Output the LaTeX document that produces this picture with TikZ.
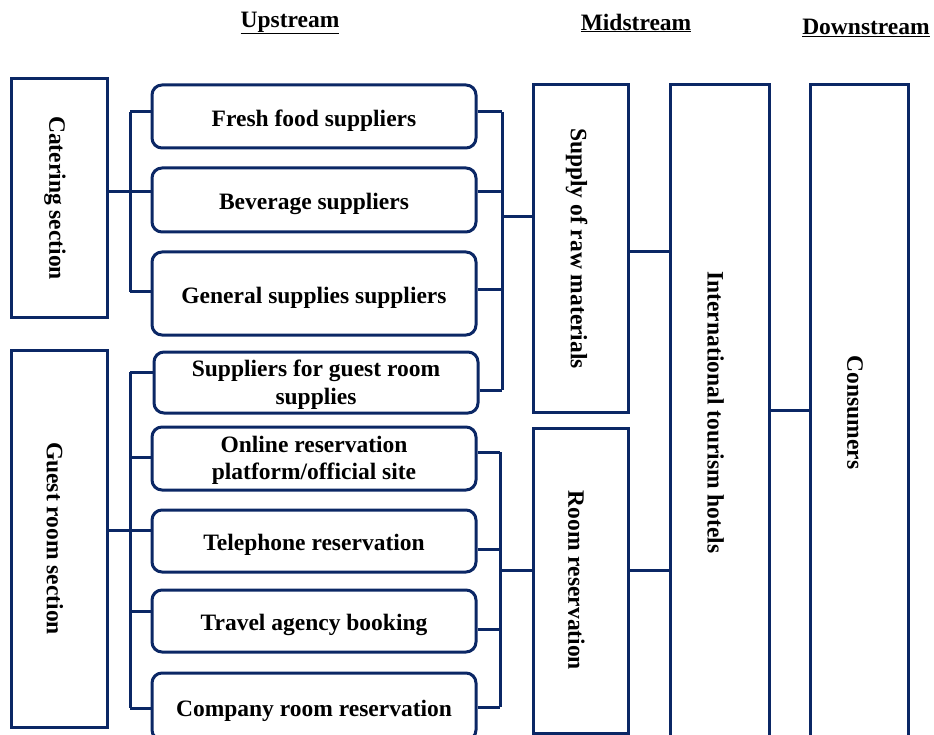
\documentclass[tikz,border=0pt]{standalone}
\usepackage{fontspec}
\setmainfont{Liberation Serif}
\definecolor{navy}{HTML}{0B2765}
\begin{document}
\begin{tikzpicture}[x=1pt,y=-1pt,
  every node/.style={font=\fontsize{23.5}{27.5}\selectfont\bfseries, text=black},
  sq/.style={draw=navy, line width=3pt, fill=white, inner sep=0pt},
  rbox/.style={sq, rounded corners=10pt, minimum width=324pt},
  vbox/.style={sq},
  lbl/.style={align=center, inner sep=0pt},
  vlbl/.style={rotate=-90, inner sep=0pt},
  conn/.style={draw=navy, line width=3pt},
  head/.style={inner sep=0pt}]
\useasboundingbox (0,0) rectangle (934,735);
% headers
\node[head] (hu) at (290,23) {\underline{Upstream}};
\node[head] (hm) at (636,23) {\underline{Midstream}};
\node[head] (hd) at (866,28) {\underline{Downstream}};
% left section boxes
\node[vbox, minimum width=96pt, minimum height=238pt] (cat) at (59,198) {};
\node[vlbl] (catt) at ([xshift=-4pt]cat.center) {Catering section};
\node[vbox, minimum width=96pt, minimum height=377pt] (guest) at (59,538.5) {};
\node[vlbl] (guestt) at ([xshift=-4pt]guest.center) {Guest room section};
% upstream rounded boxes
\node[rbox, minimum height=63pt] (f1) at (314,116.5) {};
\node[lbl] (f1t) at ([yshift=-4pt]f1.center) {Fresh food suppliers};
\node[rbox, minimum height=64pt] (f2) at (314,200) {};
\node[lbl] (f2t) at ([yshift=-4pt]f2.center) {Beverage suppliers};
\node[rbox, minimum height=83pt] (f3) at (314,293.5) {};
\node[lbl] (f3t) at ([yshift=-4pt]f3.center) {General supplies suppliers};
\node[rbox, minimum height=61pt] (f4) at (316,382.5) {};
\node[lbl] (f4t) at ([yshift=-2pt]f4.center) {Suppliers for guest room\\supplies};
\node[rbox, minimum height=63pt] (r1) at (314,458.5) {};
\node[lbl] (r1t) at ([yshift=-2pt]r1.center) {Online reservation\\platform/official site};
\node[rbox, minimum height=62pt] (r2) at (314,541) {};
\node[lbl] (r2t) at ([yshift=-4pt]r2.center) {Telephone reservation};
\node[rbox, minimum height=62pt] (r3) at (314,621) {};
\node[lbl] (r3t) at ([yshift=-4pt]r3.center) {Travel agency booking};
\node[rbox, minimum height=67pt] (r4) at (314,706.5) {};
\node[lbl] (r4t) at ([yshift=-4pt]r4.center) {Company room reservation};
% midstream
\node[vbox, minimum width=95pt, minimum height=327pt] (supply) at (580.5,248.5) {};
\node[vlbl] (supplyt) at ([xshift=-4pt]supply.center) {Supply of raw materials};
\node[vbox, minimum width=95pt, minimum height=305pt] (room) at (580.5,580.5) {};
\node[vlbl] (roomt) at ([xshift=-4pt]room.center) {Room reservation};
\node[vbox, minimum width=99pt, minimum height=655pt] (intl) at (719.5,412.5) {};
\node[vlbl] (intlt) at ([xshift=-4pt]intl.center) {International tourism hotels};
% downstream
\node[vbox, minimum width=98pt, minimum height=655pt] (cons) at (859,412.5) {};
\node[vlbl] (const) at ([xshift=-4pt]cons.center) {Consumers};
% catering bus
\coordinate (cb1) at (130,112);
\coordinate (cb3) at (130,292);
\draw[conn] (cb1) -- (cb3);
\draw[conn] (cb1) -- (f1.west |- cb1);
\draw[conn] (cat.east |- 0,192) -- (f2.west |- 0,192);
\draw[conn] (cb3) -- (f3.west |- cb3);
% guest bus
\coordinate (gb1) at (130,372);
\coordinate (gb5) at (130,708);
\draw[conn] (gb1) -- (gb5);
\draw[conn] (gb1) -- (f4.west |- gb1);
\draw[conn] (130,457) -- (r1.west |- 0,457);
\draw[conn] (guest.east |- 0,530) -- (r2.west |- 0,530);
\draw[conn] (130,611) -- (r3.west |- 0,611);
\draw[conn] (gb5) -- (r4.west |- gb5);
% raw materials bus
\coordinate (sb1) at (502,112);
\coordinate (sb4) at (502,390);
\draw[conn] (sb1) -- (sb4);
\draw[conn] (f1.east |- sb1) -- (sb1);
\draw[conn] (f2.east |- 0,192) -- (502,192);
\draw[conn] (f3.east |- 0,290) -- (502,290);
\draw[conn] (f4.east |- sb4) -- (sb4);
\draw[conn] (502,217) -- (supply.west |- 0,217);
% room bus
\coordinate (rb1) at (500,452);
\coordinate (rb4) at (500,707);
\draw[conn] (rb1) -- (rb4);
\draw[conn] (r1.east |- rb1) -- (rb1);
\draw[conn] (r2.east |- 0,549) -- (500,549);
\draw[conn] (r3.east |- 0,629) -- (500,629);
\draw[conn] (r4.east |- rb4) -- (rb4);
\draw[conn] (500,570) -- (room.west |- 0,570);
% to hotels and consumers
\draw[conn] (supply.east |- 0,252) -- (intl.west |- 0,252);
\draw[conn] (room.east |- 0,570) -- (intl.west |- 0,570);
\draw[conn] (intl.east |- 0,410) -- (cons.west |- 0,410);
\end{tikzpicture}
\end{document}
